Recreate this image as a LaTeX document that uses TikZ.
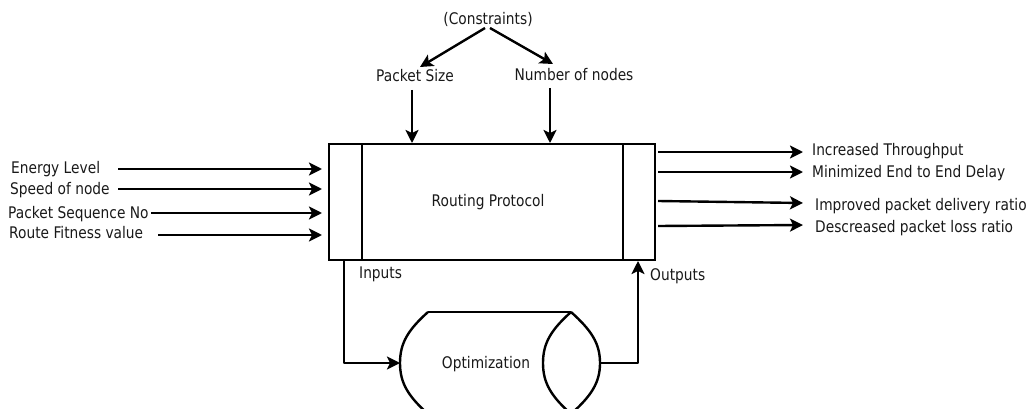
\documentclass[tikz,border=0pt]{standalone}
\usepackage{fontspec}
\setmainfont{DejaVu Sans}[FakeStretch=0.86]
\usetikzlibrary{arrows.meta}
\begin{document}
\begin{tikzpicture}[x=1pt,y=-1pt,
  lbl/.style={inner sep=0pt,font=\fontsize{16}{17}\selectfont,text=black!90},
  arr/.style={line width=2.4pt,-{Stealth[length=13pt,width=13pt,inset=3pt]}},
  ln/.style={line width=2.4pt}]
\useasboundingbox (0,0) rectangle (1030,409);
\begin{scope}
\clip (0,0) rectangle (1030,409);
% main box
\node[draw,line width=2.4pt,minimum width=326pt,minimum height=116pt,inner sep=0pt] (rp) at (492,202) {};
\draw[ln] (362,144) -- (362,260);
\draw[ln] (623,144) -- (623,260);
\node[lbl] (rpt) at (488,202) {Routing Protocol};
% constraints
\node[lbl] (con) at (488,19) {(Constraints)};
\node[lbl] (ps) at (415,76) {Packet Size};
\node[lbl] (nn) at (574,75) {Number of nodes};
\coordinate (c1) at (485,28);
\coordinate (c2) at (490,28);
\coordinate (psh) at (420,67);
\coordinate (nnh) at (553,64);
\draw[arr] (c1) -- (psh);
\draw[arr] (c2) -- (nnh);
\coordinate (pst) at (412,90);
\coordinate (psb) at (412,143);
\coordinate (nnt) at (550,88);
\coordinate (nnb) at (550,143);
\draw[arr] (pst) -- (psb);
\draw[arr] (nnt) -- (nnb);
% inputs
\node[lbl,anchor=west] (i1) at (11,169) {Energy Level};
\node[lbl,anchor=west] (i2) at (10,190) {Speed of node};
\node[lbl,anchor=west] (i3) at (8,214) {Packet Sequence No};
\node[lbl,anchor=west] (i4) at (9,233) {Route Fitness value};
\coordinate (a1) at (118,169); \coordinate (b1) at (322,169);
\coordinate (a2) at (118,189); \coordinate (b2) at (322,189);
\coordinate (a3) at (151,213); \coordinate (b3) at (322,213);
\coordinate (a4) at (158,235); \coordinate (b4) at (322,235);
\draw[arr] (a1) -- (b1);
\draw[arr] (a2) -- (b2);
\draw[arr] (a3) -- (b3);
\draw[arr] (a4) -- (b4);
% outputs
\node[lbl,anchor=west] (o1) at (812,151) {Increased Throughput};
\node[lbl,anchor=west] (o2) at (812,173) {Minimized End to End Delay};
\node[lbl,anchor=west] (o3) at (815,206) {Improved packet delivery ratio};
\node[lbl,anchor=west] (o4) at (815,228) {Descreased packet loss ratio};
\coordinate (p1) at (658,152); \coordinate (q1) at (803,152);
\coordinate (p2) at (658,172); \coordinate (q2) at (803,172);
\coordinate (p3) at (658,201); \coordinate (q3) at (803,203);
\coordinate (p4) at (658,226); \coordinate (q4) at (803,225);
\draw[arr] (p1) -- (q1);
\draw[arr] (p2) -- (q2);
\draw[arr] (p3) -- (q3);
\draw[arr] (p4) -- (q4);
% labels
\node[lbl,anchor=west] (inl) at (359,274) {Inputs};
\node[lbl,anchor=west] (outl) at (650,276) {Outputs};
% optimization drum
\draw[ln,line join=round] (428,312) .. controls (408,330) and (400,343) .. (400,363)
   .. controls (400,383) and (408,396) .. (428,414);
\draw[ln] (428,312) -- (571,312);
\draw[ln] (571,312) .. controls (551,330) and (543,343) .. (543,363)
   .. controls (543,383) and (551,396) .. (571,414);
\draw[ln] (571,312) .. controls (591,330) and (600,343) .. (600,363)
   .. controls (600,383) and (591,396) .. (571,414);
\node[lbl] (opt) at (486,364) {Optimization};
\coordinate (inp) at (344,261);
\coordinate (optin) at (400,363);
\coordinate (optout) at (600,363);
\coordinate (outp) at (638,261);
\draw[arr,line join=round] (inp) |- (optin);
\draw[arr,line join=round] (optout) -| (outp);
\end{scope}
\end{tikzpicture}
\end{document}
